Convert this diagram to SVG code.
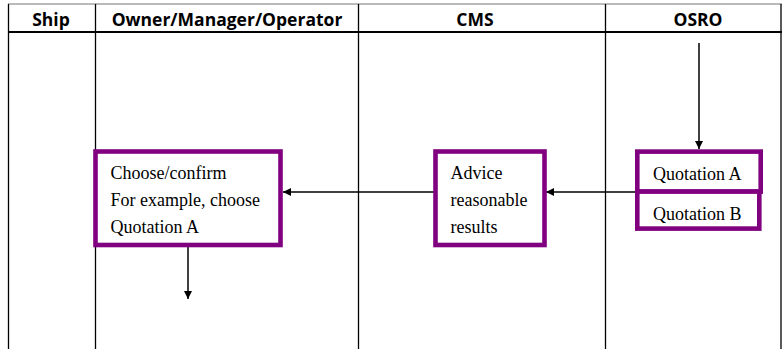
<svg xmlns="http://www.w3.org/2000/svg" width="782" height="349" viewBox="0 0 782 349">
<style>
.hdr{font-family:"Open Sans","Liberation Sans",sans-serif;font-weight:bold;font-size:17.5px;fill:#000;text-anchor:middle}
.lane{stroke:#000;stroke-width:1.3;fill:none}
.box{fill:#fff;stroke:#800080;stroke-width:4.6}
.t{font-family:"Liberation Serif","Times New Roman",serif;font-size:18px;fill:#000}
.con{stroke:#000;stroke-width:1.5;fill:none;marker-end:url(#ah)}
</style>
<defs>
<marker id="ah" viewBox="0 0 10 10" refX="10" refY="5" markerWidth="8" markerHeight="8" markerUnits="userSpaceOnUse" orient="auto">
<path d="M0,0 L10,5 L0,10 z" fill="#000"/>
</marker>
</defs>
<rect width="782" height="349" fill="#fff"/>
<g id="table">
<line x1="8" y1="4" x2="782" y2="4" stroke="#777" stroke-width="1.2"/>
<line x1="8" y1="32" x2="782" y2="32" stroke="#000" stroke-width="2"/>
<line class="lane" x1="8.5" y1="4" x2="8.5" y2="349"/>
<line class="lane" x1="95.5" y1="4" x2="95.5" y2="349"/>
<line class="lane" x1="358.5" y1="4" x2="358.5" y2="349"/>
<line class="lane" x1="605.5" y1="4" x2="605.5" y2="349"/>
<line class="lane" x1="781" y1="4" x2="781" y2="349"/>
<text class="hdr" x="51" y="25.5">Ship</text>
<text class="hdr" x="227" y="25.5">Owner/Manager/Operator</text>
<text class="hdr" x="475" y="25.5">CMS</text>
<text class="hdr" x="698" y="25.5">OSRO</text>
</g>
<g id="connectors">
<line class="con" x1="699" y1="43" x2="699" y2="149"/>
<line class="con" x1="635" y1="192" x2="546" y2="192"/>
<line class="con" x1="435" y1="192" x2="283" y2="192"/>
<line class="con" x1="188" y1="247" x2="188" y2="299"/>
</g>
<g id="choose">
<rect class="box" x="95.5" y="151.5" width="185" height="93.5"/>
<text class="t" x="110.5" y="179">Choose/confirm</text>
<text class="t" x="110.5" y="206">For example, choose</text>
<text class="t" x="110.5" y="233">Quotation A</text>
</g>
<g id="advice">
<rect class="box" x="435.5" y="151.5" width="109" height="93.5"/>
<text class="t" x="450.5" y="179">Advice</text>
<text class="t" x="450.5" y="206">reasonable</text>
<text class="t" x="450.5" y="233">results</text>
</g>
<g id="quotationA">
<rect class="box" x="637.3" y="151.6" width="123.4" height="40"/>
<text class="t" x="653" y="180">Quotation A</text>
</g>
<g id="quotationB">
<rect class="box" x="637.3" y="191.6" width="122" height="37"/>
<text class="t" x="653" y="220">Quotation B</text>
</g>
</svg>
